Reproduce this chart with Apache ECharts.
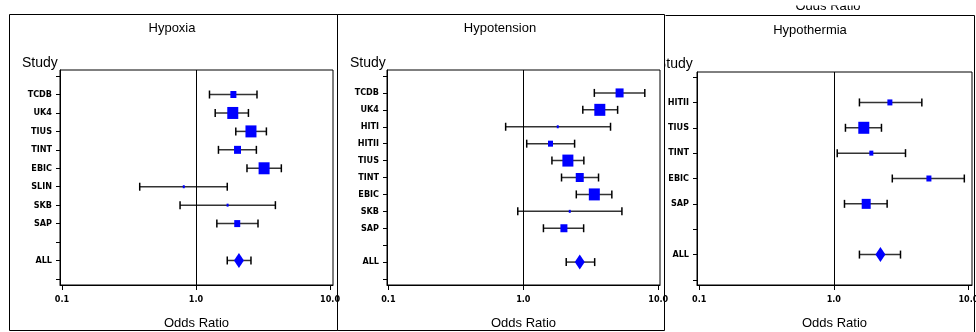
<!DOCTYPE html>
<html>
<head>
<meta charset="utf-8">
<script src="https://cdn.jsdelivr.net/npm/echarts@6/dist/echarts.min.js"></script>
<style>
  html, body { margin: 0; padding: 0; background: #fff; }
  #chart { width: 976px; height: 332px; }
</style>
</head>
<body>
<div id="chart"></div>
<script>
// rows of each panel, blanks are empty tick positions
const hypoxiaRows = ['', 'TCDB', 'UK4', 'TIUS', 'TINT', 'EBIC', 'SLIN', 'SKB', 'SAP', '', 'ALL', ''];
const hypoxiaStudies = ['TCDB', 'UK4', 'TIUS', 'TINT', 'EBIC', 'SLIN', 'SKB', 'SAP'];
const hypoxiaOR = [1.90, 1.88, 2.57, 2.04, 3.22, 0.81, 1.72, 2.03];
const hypoxiaLo = [1.26, 1.39, 1.98, 1.47, 2.40, 0.38, 0.76, 1.43];
const hypoxiaHi = [2.85, 2.46, 3.35, 2.82, 4.33, 1.71, 3.91, 2.90];
const hypoxiaWeight = [6, 11, 11, 7, 11, 2, 2, 6];
const hypoxiaAll = [1.71, 2.09, 2.57]; // lo, or, hi

const hypotensionRows = ['', 'TCDB', 'UK4', 'HITI', 'HITII', 'TIUS', 'TINT', 'EBIC', 'SKB', 'SAP', '', 'ALL', ''];
const hypotensionStudies = ['TCDB', 'UK4', 'HITI', 'HITII', 'TIUS', 'TINT', 'EBIC', 'SKB', 'SAP'];
const hypotensionOR = [5.17, 3.69, 1.80, 1.59, 2.14, 2.62, 3.36, 2.21, 2.00];
const hypotensionLo = [3.36, 2.76, 0.74, 1.06, 1.63, 1.92, 2.47, 0.91, 1.41];
const hypotensionHi = [7.95, 5.00, 4.43, 2.40, 2.81, 3.61, 4.53, 5.38, 2.80];
const hypotensionWeight = [8, 11, 2, 5, 11, 8, 11, 2, 7];
const hypotensionAll = [2.08, 2.62, 3.38];

const hypothermiaRows = ['', 'HITII', 'TIUS', 'TINT', 'EBIC', 'SAP', '', 'ALL', ''];
const hypothermiaStudies = ['HITII', 'TIUS', 'TINT', 'EBIC', 'SAP'];
const hypothermiaOR = [2.61, 1.67, 1.90, 5.09, 1.74];
const hypothermiaLo = [1.55, 1.22, 1.06, 2.72, 1.20];
const hypothermiaHi = [4.51, 2.26, 3.41, 9.33, 2.49];
const hypothermiaWeight = [5, 11, 4, 5, 9];
const hypothermiaAll = [1.55, 2.22, 3.13];

const xTicks = [0.1, 1.0, 10.0];

const panels = [
  { title: 'Hypoxia', rows: hypoxiaRows, studies: hypoxiaStudies, or: hypoxiaOR, lo: hypoxiaLo, hi: hypoxiaHi, w: hypoxiaWeight, all: hypoxiaAll,
    grid: { left: 60, top: 70, width: 273, height: 215 }, xr: [-1.015, 1.022], yr: [-0.33, 11.33] },
  { title: 'Hypotension', rows: hypotensionRows, studies: hypotensionStudies, or: hypotensionOR, lo: hypotensionLo, hi: hypotensionHi, w: hypotensionWeight, all: hypotensionAll,
    grid: { left: 387, top: 70, width: 273, height: 215 }, xr: [-1.01, 1.013], yr: [-0.355, 12.355] },
  { title: 'Hypothermia', rows: hypothermiaRows, studies: hypothermiaStudies, or: hypothermiaOR, lo: hypothermiaLo, hi: hypothermiaHi, w: hypothermiaWeight, all: hypothermiaAll,
    grid: { left: 697, top: 72, width: 275, height: 213 }, xr: [-1.017, 1.027], yr: [-0.2, 8.2] }
];

const lg = Math.log10;
const smallFont = "'Liberation Sans Narrow', 'DejaVu Sans Condensed', sans-serif";
const textFont = "'Liberation Sans', 'DejaVu Sans', sans-serif";
const blue = '#0000ff';

function renderWhisker(params, api) {
  const y = api.value(2);
  const a = api.coord([api.value(0), y]);
  const b = api.coord([api.value(1), y]);
  const h = 4;
  const cap = { stroke: '#000', lineWidth: 1.5 };
  return {
    type: 'group',
    children: [
      { type: 'line', shape: { x1: a[0], y1: a[1], x2: b[0], y2: b[1] }, style: { stroke: '#333', lineWidth: 1.5 } },
      { type: 'line', shape: { x1: a[0], y1: a[1] - h, x2: a[0], y2: a[1] + h }, style: cap },
      { type: 'line', shape: { x1: b[0], y1: b[1] - h, x2: b[0], y2: b[1] + h }, style: cap }
    ]
  };
}

const grids = [], xAxes = [], yAxes = [], series = [];
panels.forEach((p, i) => {
  grids.push(Object.assign({ show: true, borderColor: '#000', borderWidth: 1, backgroundColor: 'transparent',
    containLabel: false, outerBoundsMode: 'none' }, p.grid));
  xAxes.push({
    type: 'value', gridIndex: i, min: p.xr[0], max: p.xr[1], position: 'bottom',
    splitLine: { show: false },
    axisLine: { show: true, onZero: false, lineStyle: { color: '#000', width: 1 } },
    axisTick: { show: true, length: 5, customValues: xTicks.map(lg), lineStyle: { color: '#000' } },
    axisLabel: { customValues: xTicks.map(lg), formatter: v => Math.pow(10, v).toFixed(1),
      color: '#000', fontSize: 9, fontWeight: 'bold', fontFamily: smallFont, margin: 10 },
    name: 'Odds Ratio', nameLocation: 'middle', nameGap: 32,
    nameTextStyle: { color: '#000', fontSize: 13, fontFamily: textFont }
  });
  const idx = p.rows.map((r, k) => k);
  yAxes.push({
    type: 'value', gridIndex: i, inverse: true, min: p.yr[0], max: p.yr[1], position: 'left',
    splitLine: { show: false },
    axisLine: { show: true, onZero: false, lineStyle: { color: '#000', width: 1 } },
    axisTick: { show: true, length: 4, customValues: idx, lineStyle: { color: '#000' } },
    axisLabel: { customValues: idx, formatter: v => p.rows[Math.round(v)] || '',
      color: '#000', fontSize: 9, fontWeight: 'bold', fontFamily: smallFont, margin: 8 }
  });

  const allRow = p.rows.indexOf('ALL');
  const whiskers = p.studies.map((s, k) => [lg(p.lo[k]), lg(p.hi[k]), p.rows.indexOf(s)]);
  whiskers.push([lg(p.all[0]), lg(p.all[2]), allRow]);
  series.push({
    type: 'custom', xAxisIndex: i, yAxisIndex: i, renderItem: renderWhisker,
    encode: { x: [0, 1], y: 2 }, data: whiskers, silent: true, z: 2,
    markLine: { silent: true, symbol: 'none', label: { show: false },
      lineStyle: { color: '#000', width: 1, type: 'solid' }, data: [{ xAxis: 0 }] }
  });
  series.push({
    type: 'scatter', xAxisIndex: i, yAxisIndex: i, symbol: 'rect',
    symbolSize: v => [v[2], v[2] + 1],
    itemStyle: { color: blue, opacity: 1 }, z: 3, silent: true,
    data: p.studies.map((s, k) => [lg(p.or[k]), p.rows.indexOf(s), p.w[k]])
  });
  series.push({
    type: 'scatter', xAxisIndex: i, yAxisIndex: i, symbol: 'diamond', symbolSize: [10, 15],
    itemStyle: { color: blue, opacity: 1 }, z: 3, silent: true,
    data: [[lg(p.all[1]), allRow]]
  });
});

const txt = (x, y, text, size, align) => ({
  type: 'text', x: x, y: y, z: 10,
  style: { text: text, fill: '#000', fontSize: size, fontFamily: textFont, align: align || 'center', verticalAlign: 'middle' }
});

const graphic = [
  { type: 'rect', shape: { x: 9.5, y: 14.5, width: 328, height: 316 }, style: { fill: 'none', stroke: '#000', lineWidth: 1 }, z: 20 },
  { type: 'rect', shape: { x: 337.5, y: 14.5, width: 327, height: 316 }, style: { fill: 'none', stroke: '#000', lineWidth: 1 }, z: 20 },
  { type: 'polyline', shape: { points: [[665.5, 15.5], [974.5, 15.5], [974.5, 340]] }, style: { fill: 'none', stroke: '#000', lineWidth: 1 }, z: 20 },
  txt(172, 28, 'Hypoxia', 13),
  txt(500, 28, 'Hypotension', 13),
  txt(810, 30, 'Hypothermia', 13),
  txt(22, 63, 'Study', 14, 'left'),
  txt(350, 63, 'Study', 14, 'left'),
  txt(657, 64, 'Study', 14, 'left'),
  { type: 'rect', shape: { x: 640, y: 50, width: 25.5, height: 19 }, style: { fill: '#fff' }, z: 15 },
  { type: 'text', x: 828, y: 13, z: 10,
    style: { text: 'Odds Ratio', fill: '#000', fontSize: 13, fontFamily: textFont, align: 'center', verticalAlign: 'bottom' } },
  { type: 'rect', shape: { x: 770, y: 0, width: 120, height: 5.5 }, style: { fill: '#fff' }, z: 15 }
];

const chart = echarts.init(document.getElementById('chart'));
chart.setOption({
  animation: false,
  backgroundColor: '#fff',
  grid: grids,
  xAxis: xAxes,
  yAxis: yAxes,
  series: series,
  graphic: graphic
});
</script>
</body>
</html>
